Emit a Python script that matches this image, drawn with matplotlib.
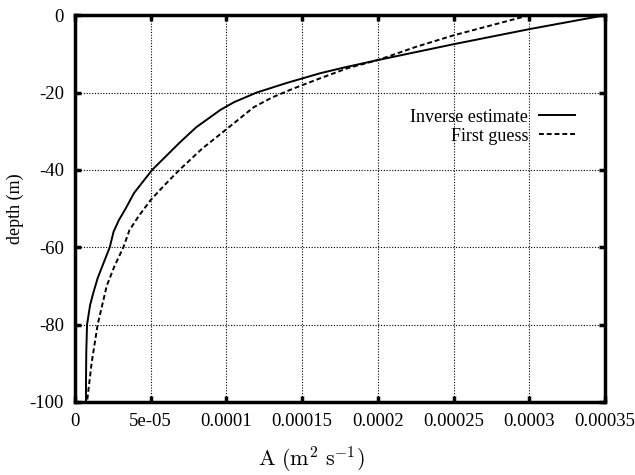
import matplotlib
matplotlib.use("Agg")
import matplotlib.pyplot as plt
import numpy as np

plt.rcParams['font.family'] = ['Liberation Serif', 'DejaVu Serif']
plt.rcParams['mathtext.fontset'] = 'cm'
plt.rcParams['axes.unicode_minus'] = False

# inverse estimate (solid)
inv_A = [3.5e-4, 3.0e-4, 2.5e-4, 2.0e-4, 1.78e-4, 1.62e-4, 1.4e-4, 1.2e-4, 1.05e-4,
         0.96e-4, 0.80e-4, 0.69e-4, 0.60e-4, 0.51e-4, 0.45e-4, 0.39e-4, 0.335e-4,
         0.29e-4, 0.255e-4, 0.23e-4, 0.19e-4, 0.15e-4, 0.12e-4, 0.10e-4, 0.08e-4,
         0.075e-4, 0.073e-4, 0.073e-4]
inv_z = [0, -3.6, -7.5, -11.6, -13.5, -15, -17.5, -20, -22.5,
         -24.5, -29, -33, -36.5, -40, -43, -46, -50,
         -53, -56, -60, -64, -68, -72, -75, -80,
         -87, -95, -100]

# first guess (dashed)
fg_A = [3.0e-4, 2.75e-4, 2.5e-4, 2.25e-4, 2.0e-4, 1.8e-4, 1.62e-4, 1.44e-4, 1.3e-4,
        1.18e-4, 1.0e-4, 0.84e-4, 0.69e-4, 0.59e-4, 0.50e-4, 0.42e-4, 0.36e-4,
        0.32e-4, 0.26e-4, 0.21e-4, 0.18e-4, 0.15e-4, 0.11e-4, 0.095e-4, 0.08e-4]
fg_z = [0, -2.6, -5.2, -8.2, -11.6, -13.7, -16.3, -19, -21.3,
        -23.8, -29.5, -34.5, -40, -44, -47.8, -52, -55.6,
        -60, -65, -70, -75, -80, -90, -95, -100]

xticks = [0, 5e-5, 1e-4, 1.5e-4, 2e-4, 2.5e-4, 3e-4, 3.5e-4]
xticklabels = ['0', '5e-05', '0.0001', '0.00015', '0.0002', '0.00025', '0.0003', '0.00035']
yticks = [0, -20, -40, -60, -80, -100]

fig = plt.figure(figsize=(6.35, 4.75), dpi=100)
ax = fig.add_axes([0.118, 0.154, 0.835, 0.814])

ax.plot(inv_A, inv_z, color='black', lw=1.4, label='Inverse estimate')
ax.plot(fg_A, fg_z, color='black', lw=1.4, ls=(0, (2.5, 1.5)), label='First guess')

ax.set_xlim(0, 3.5e-4)
ax.set_ylim(-100, 0)
ax.set_xticks(xticks)
ax.set_xticklabels(xticklabels)
ax.set_yticks(yticks)
ax.grid(True, color='black', ls=(0, (1, 1.5)), lw=0.8)
ax.tick_params(direction='in', length=4, width=2.5, top=True, right=True,
               labelsize=13.5, pad=8)
for s in ax.spines.values():
    s.set_linewidth(2.5)

ax.set_xlabel(r'$\mathrm{A\ (m^2\ s^{-1})}$', fontsize=16)
ax.xaxis.set_label_coords(0.445, -0.11)
ax.set_ylabel('depth (m)', fontsize=13, labelpad=4)

ax.legend(loc='upper right', bbox_to_anchor=(0.974, 0.80), frameon=False,
          markerfirst=False, fontsize=13, handlelength=2.0, handletextpad=0.6,
          labelspacing=0.1)

fig.savefig('out.png', dpi=100)
